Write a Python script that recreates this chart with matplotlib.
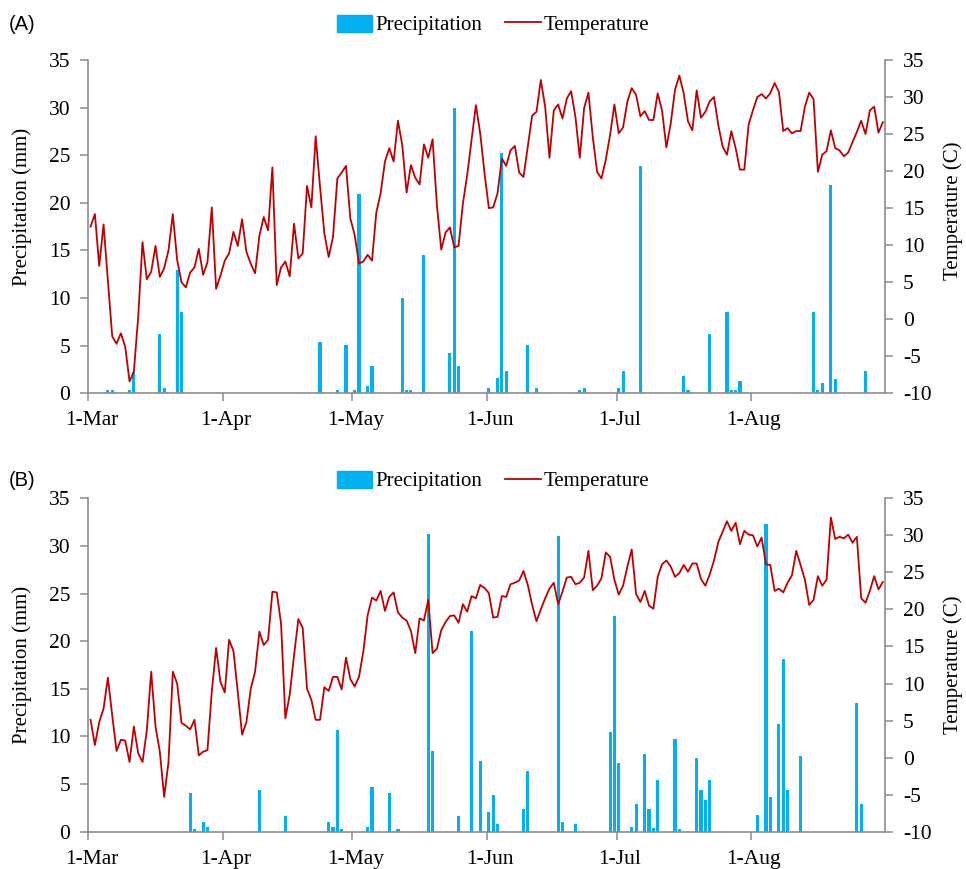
import numpy as np
import matplotlib
matplotlib.use("Agg")
import matplotlib.pyplot as plt
import matplotlib.transforms as mtransforms
from matplotlib.patches import Patch
from matplotlib.lines import Line2D

# ---------------- data ----------------
month_ticks = [0, 31, 61, 92, 122, 153]
month_labels = ["1-Mar", "1-Apr", "1-May", "1-Jun", "1-Jul", "1-Aug"]
n_days = 184

temp_A = [
    12.5, 14.2, 7.2, 12.8, 5.3, -2.3, -3.3, -1.9, -3.7, -8.4,
    -7.1, 0.3, 10.4, 5.4, 6.4, 9.9, 5.7, 6.9, 9.3, 14.2,
    8.0, 5.0, 4.3, 6.3, 7.0, 9.5, 6.0, 7.7, 15.1, 4.1,
    5.9, 7.9, 8.9, 11.8, 9.9, 13.5, 9.1, 7.5, 6.2, 11.3,
    13.8, 12.0, 20.5, 4.6, 7.0, 7.8, 5.8, 12.9, 8.2, 8.9,
    18.0, 15.1, 24.7, 17.9, 11.6, 8.4, 11.1, 19.0, 19.8, 20.7,
    13.6, 11.4, 7.5, 7.8, 8.7, 7.9, 14.4, 17.0, 21.3, 23.1,
    21.3, 26.8, 23.5, 17.1, 20.8, 19.1, 18.2, 23.6, 21.8, 24.3,
    15.4, 9.4, 11.7, 12.4, 9.7, 9.9, 15.6, 19.5, 24.2, 28.9,
    25.1, 19.7, 15.0, 15.1, 17.0, 21.7, 20.7, 22.8, 23.4, 19.8,
    19.2, 23.3, 27.5, 28.0, 32.3, 28.7, 21.8, 28.2, 29.0, 27.1,
    29.8, 30.8, 27.3, 21.8, 28.5, 30.6, 24.6, 19.9, 19.0, 21.5,
    24.9, 29.0, 25.1, 25.9, 29.4, 31.2, 30.3, 27.4, 28.1, 26.9,
    26.9, 30.5, 28.2, 23.2, 26.4, 31.0, 32.9, 30.5, 26.7, 25.5,
    30.9, 27.2, 28.0, 29.4, 30.0, 26.2, 23.3, 22.2, 25.4, 23.1,
    20.2, 20.2, 26.3, 28.2, 30.0, 30.4, 29.8, 30.5, 31.9, 30.7,
    25.4, 25.8, 25.1, 25.4, 25.4, 28.7, 30.6, 29.7, 19.9, 22.2,
    22.7, 25.5, 23.1, 22.8, 22.0, 22.5, 23.9, 25.3, 26.8, 25.0,
    28.2, 28.7, 25.2, 26.6,
]

temp_B = [
    5.1, 1.7, 4.8, 6.6, 10.8, 5.7, 0.9, 2.4, 2.3, -0.6,
    4.2, 0.6, -0.6, 3.7, 11.6, 4.2, 0.8, -5.3, -0.6, 11.6,
    10.0, 4.7, 4.3, 3.8, 5.1, 0.3, 0.8, 1.0, 8.9, 14.8,
    10.2, 8.8, 15.9, 14.4, 8.9, 3.1, 4.8, 9.3, 11.6, 17.0,
    15.2, 15.9, 22.4, 22.3, 18.1, 5.3, 8.5, 13.8, 18.7, 17.5,
    9.3, 7.8, 5.1, 5.1, 9.5, 9.0, 10.9, 10.9, 9.2, 13.5,
    10.6, 9.6, 10.9, 14.3, 19.2, 21.6, 21.2, 22.5, 19.8, 21.7,
    22.3, 19.6, 18.9, 18.5, 17.1, 14.1, 18.8, 18.5, 21.3, 14.1,
    14.7, 17.2, 18.3, 19.1, 19.2, 18.2, 20.7, 19.7, 21.8, 21.5,
    23.3, 22.9, 22.2, 18.9, 19.0, 21.8, 21.7, 23.4, 23.6, 23.9,
    25.2, 23.3, 20.6, 18.4, 20.0, 21.5, 22.8, 23.6, 20.7, 22.4,
    24.3, 24.4, 23.4, 23.6, 24.3, 27.9, 22.6, 23.2, 24.2, 27.7,
    27.1, 24.0, 22.0, 23.2, 25.8, 28.1, 22.1, 21.0, 22.5, 20.5,
    20.1, 24.4, 26.1, 26.6, 25.8, 24.4, 24.9, 26.0, 25.1, 26.2,
    26.2, 24.1, 23.2, 24.7, 26.6, 29.1, 30.5, 31.9, 30.6, 31.7,
    28.8, 30.6, 30.1, 30.0, 28.5, 29.7, 26.1, 26.0, 22.5, 22.8,
    22.3, 23.6, 24.6, 27.9, 26.0, 24.0, 20.6, 21.3, 24.5, 23.2,
    24.0, 32.4, 29.5, 29.8, 29.6, 30.1, 29.0, 29.8, 21.5, 20.9,
    22.5, 24.5, 22.7, 23.7,
]

rain_days_A = [4, 5, 9, 10, 16, 17, 20, 21, 53, 57, 59, 61, 62, 64, 65, 72, 73, 74,
               77, 83, 84, 85, 92, 94, 95, 96, 101, 103, 113, 114, 122, 123, 127,
               137, 138, 143, 147, 148, 149, 150, 167, 168, 169, 171, 172, 179]
rain_mm_A = [0.3, 0.3, 0.3, 2.2, 6.2, 0.6, 13.0, 8.5, 5.4, 0.3, 5.1, 0.3, 20.9, 0.8,
             2.9, 10.0, 0.3, 0.3, 14.5, 4.2, 30.0, 2.9, 0.6, 1.6, 25.2, 2.3, 5.1,
             0.6, 0.35, 0.6, 0.6, 2.3, 23.9, 1.85, 0.35, 6.2, 8.5, 0.35, 0.35, 1.3,
             8.5, 0.35, 1.05, 21.9, 1.5, 2.3]

rain_days_B = [23, 24, 26, 27, 39, 45, 55, 56, 57, 58, 64, 65, 69, 71, 78, 79, 85,
               88, 90, 92, 93, 94, 100, 101, 108, 109, 112, 120, 121, 122, 125, 126,
               128, 129, 130, 131, 135, 136, 140, 141, 142, 143, 154, 156, 157, 159,
               160, 161, 164, 177, 178]
rain_mm_B = [4.1, 0.3, 1.0, 0.5, 4.4, 1.6, 1.0, 0.5, 10.7, 0.3, 0.5, 4.7, 4.1, 0.3,
             31.3, 8.5, 1.6, 21.1, 7.4, 2.1, 3.9, 0.8, 2.4, 6.4, 31.0, 1.0, 0.8,
             10.5, 22.6, 7.2, 0.5, 2.9, 8.2, 2.4, 0.35, 5.4, 9.7, 0.3, 7.7, 4.4,
             3.3, 5.4, 1.75, 32.3, 3.6, 11.3, 18.1, 4.4, 7.9, 13.5, 2.9]

# ---------------- style ----------------
BLUE = "#00B0F0"
RED = "#C00000"
GRAY = "#8C8C8C"
SERIF = ["Liberation Serif", "DejaVu Serif"]
SANS = ["Liberation Sans", "DejaVu Sans"]
TICK_FS = 15.5
LABEL_FS = 15

plt.rcParams["font.family"] = SERIF
plt.rcParams["axes.unicode_minus"] = False

fig = plt.figure(figsize=(9.66, 8.69), dpi=100)
W, H = 966.0, 869.0


def fx(px):
    return px / W


def fy(py):
    return 1 - py / H


def panel(top_px, bottom_px, temps, rdays, rmm, tag, legend_y, ylab_y, rlab_y):
    ax = fig.add_axes([fx(88.4), fy(bottom_px), fx(885) - fx(88.4),
                       (bottom_px - top_px) / H])
    ax.bar(np.array(rdays) + 0.5, rmm, width=0.72, color=BLUE, zorder=2)
    ax.set_xlim(0, n_days)
    ax.set_ylim(0, 35)
    ax.set_yticks(range(0, 36, 5))
    ax.set_xticks(month_ticks)
    ax.set_xticklabels(month_labels)
    ax2 = ax.twinx()
    ax2.plot(np.arange(n_days) + 0.5, temps, color=RED, lw=1.3, zorder=3)
    ax2.set_ylim(-10, 35)
    ax2.set_yticks(range(-10, 36, 5))
    ax2.set_xlim(0, n_days)
    for a in (ax, ax2):
        a.spines["top"].set_visible(False)
        for s in ("left", "right", "bottom"):
            a.spines[s].set_color(GRAY)
            a.spines[s].set_linewidth(1.2)
        a.tick_params(axis="both", which="major", direction="out", length=6,
                      width=1.1, color=GRAY, labelsize=TICK_FS, pad=7,
                      labelcolor="black")
    ax.spines["right"].set_visible(False)
    ax2.spines["left"].set_visible(False)
    ax2.spines["bottom"].set_visible(False)
    offset = mtransforms.ScaledTranslation(3 / 100, 0, fig.dpi_scale_trans)
    for lab in ax.get_xticklabels():
        lab.set_transform(lab.get_transform() + offset)
    for lab in ax.get_xticklabels() + ax.get_yticklabels() + ax2.get_yticklabels():
        lab.set_fontfamily(SERIF)

    fig.text(fx(22), fy(ylab_y), "Precipitation (mm)", rotation=90,
             ha="center", va="center", fontsize=LABEL_FS, family=SERIF)
    fig.text(fx(953), fy(rlab_y), "Temperature (C)", rotation=90,
             ha="center", va="center", fontsize=LABEL_FS, family=SERIF)
    fig.text(fx(9), fy(legend_y), tag, ha="left", va="center",
             fontsize=14.5, family=SANS)

    handles = [Patch(facecolor=BLUE, edgecolor=BLUE),
               Line2D([0], [0], color=RED, lw=1.3)]
    fig.legend(handles, ["Precipitation", "Temperature"], loc="center",
               bbox_to_anchor=(fx(493), fy(legend_y)), ncol=2, frameon=False,
               handlelength=1.7, handleheight=0.9,
               handletextpad=0.15, columnspacing=1.1, borderaxespad=0,
               prop={"family": SERIF, "size": LABEL_FS})
    return ax, ax2


panel(60.0, 393.3, temp_A, rain_days_A, rain_mm_A, "(A)", 25, 207, 211)
panel(498.3, 831.7, temp_B, rain_days_B, rain_mm_B, "(B)", 481, 665, 665)

fig.savefig("out.png", dpi=100)
